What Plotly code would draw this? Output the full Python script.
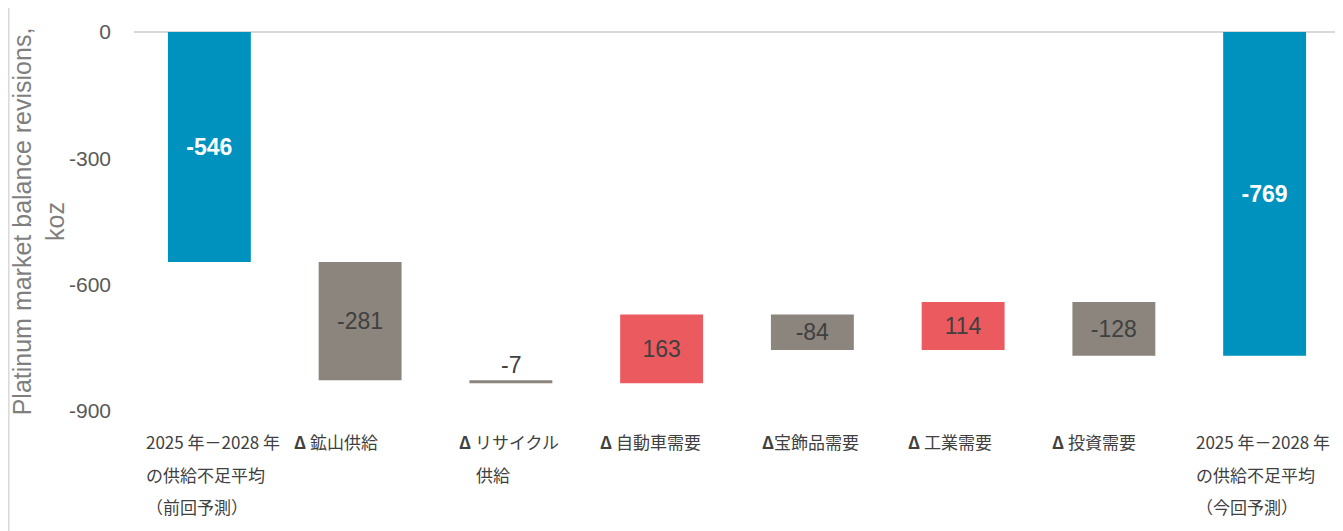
import numpy as np
import plotly.graph_objects as go

# ---- data ----
categories = ["prev_avg", "mine", "recycle", "auto", "jewel", "industrial", "invest", "new_avg"]
label_lines = [
    ["2025 年－2028 年", "の供給不足平均", "（前回予測）"],
    ["Δ 鉱山供給"],
    ["Δ リサイクル", "　供給"],
    ["Δ 自動車需要"],
    ["Δ宝飾品需要"],
    ["Δ 工業需要"],
    ["Δ 投資需要"],
    ["2025 年－2028 年", "の供給不足平均", "（今回予測）"],
]
values = [-546, -281, -7, 163, -84, 114, -128, -769]
measures = ["absolute", "relative", "relative", "relative", "relative", "relative", "relative", "total"]
y_ticks = [0, -300, -600, -900]
y_title = "Platinum market balance revisions,<br>koz"

# ---- style ----
BLUE = "#0092BE"
GREY = "#8B857D"
RED = "#EA5A5F"
LABEL_OFFSET = [-65, -68, -54, -64, -52, -57, -64, -71]  # px shift of label block left edge
LINE_SHIFT = [-30, -63, -95]
NUM_FONT = "Liberation Sans, Arial, sans-serif"
JP_FONT = "Noto Sans CJK JP, sans-serif"

texts, tcolors, tpos = [], [], []
for v, m in zip(values, measures):
    if m in ("absolute", "total"):
        texts.append(f"<b>{v}</b>")
        tcolors.append("white")
        tpos.append("inside")
    elif abs(v) < 20:
        texts.append(str(v))
        tcolors.append("#404040")
        tpos.append("none")
    else:
        texts.append(str(v))
        tcolors.append("#404040")
        tpos.append("inside")

fig = go.Figure(go.Waterfall(
    x=categories,
    y=values,
    measure=measures,
    text=texts,
    textposition=tpos,
    insidetextanchor="middle",
    constraintext="none",
    textfont=dict(family=NUM_FONT, size=23, color=tcolors),
    increasing=dict(marker=dict(color=RED)),
    decreasing=dict(marker=dict(color=GREY)),
    totals=dict(marker=dict(color=BLUE)),
    connector=dict(visible=False),
    hoverinfo="skip",
))

# small-bar label placed above its bar (computed from the running total)
running = np.cumsum([0] + values[:-1])
for i, (v, t, p) in enumerate(zip(values, texts, tpos)):
    if p == "none":
        top = running[i] + max(v, 0)
        fig.add_annotation(x=categories[i], y=top, xref="x", yref="y", text=t,
                           showarrow=False, yanchor="bottom", yshift=0,
                           font=dict(family=NUM_FONT, size=23, color="#404040"))

# category labels
for i, lines in enumerate(label_lines):
    for j, line in enumerate(lines):
        fig.add_annotation(x=categories[i], y=0, xref="x", yref="paper",
                           text=line.replace("Δ", "<b>Δ</b>"),
                           showarrow=False, xanchor="left", yanchor="middle",
                           xshift=LABEL_OFFSET[i], yshift=LINE_SHIFT[j],
                           font=dict(family=JP_FONT, size=17, color="#404040"))

# left frame line
fig.add_shape(type="line", xref="paper", yref="paper", x0=-0.1038, x1=-0.1038, y0=-0.4, y1=1.1,
              line=dict(color="#D9D9D9", width=1.5))

fig.update_layout(
    width=1335, height=523,
    margin=dict(l=126, r=3, t=24, b=120, autoexpand=False),
    plot_bgcolor="white", paper_bgcolor="white",
    waterfallgap=0.45,
    showlegend=False,
    font=dict(family=NUM_FONT, color="#595959"),
)
fig.update_xaxes(showticklabels=False, showgrid=False, zeroline=False, showline=False, ticks="",
                 automargin=False)
fig.update_yaxes(
    range=[-900, 0], tickvals=y_ticks, ticktext=[str(t) for t in y_ticks],
    tickfont=dict(family=NUM_FONT, size=21, color="#595959"), ticks="", ticklabelstandoff=22,
    showgrid=False, zeroline=True, zerolinecolor="#D9D9D9", zerolinewidth=2,
    showline=False, automargin=False,
    title=dict(text=y_title, font=dict(family=NUM_FONT, size=25, color="#7F7F7F"), standoff=1),
)

fig.write_html("out.html")
